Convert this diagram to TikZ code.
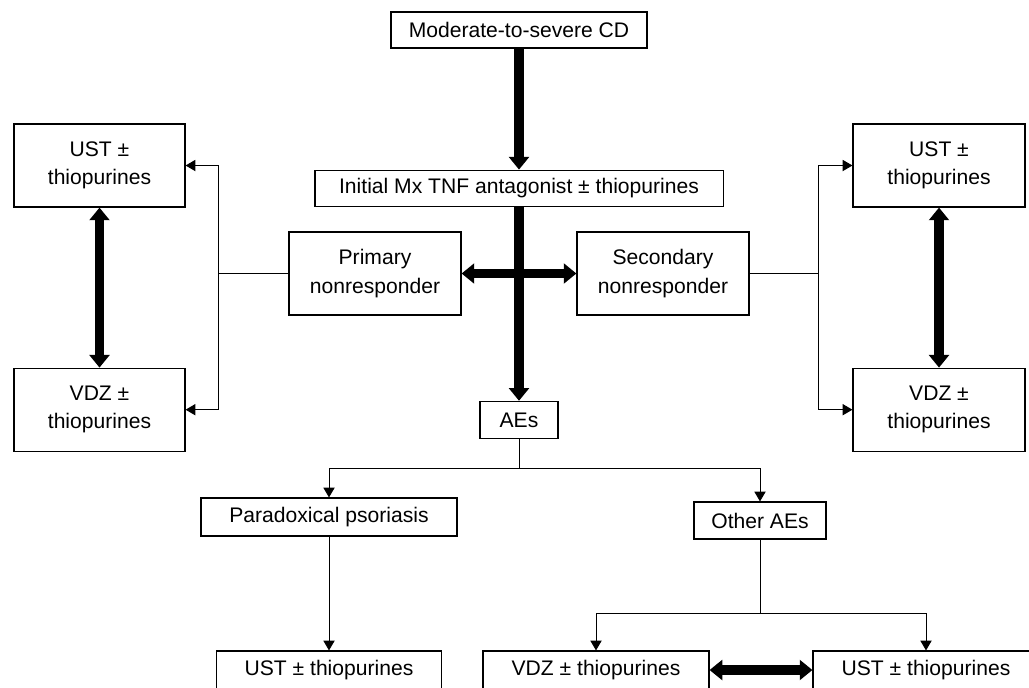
\documentclass[tikz,border=0pt]{standalone}
\usepackage{fontspec}
\setmainfont{Liberation Sans}
\usetikzlibrary{positioning,arrows.meta}

\begin{document}
\begin{tikzpicture}[x=0.025cm,y=-0.025cm,
		box/.style={draw=black,line width=0.8pt,align=center,font=\fontsize{15}{20}\selectfont},
		fat/.style={line width=7pt,arrows={-Triangle[width=14pt,length=9pt]}},
		fatboth/.style={line width=7pt,arrows={Triangle[width=14pt,length=9pt]-Triangle[width=14pt,length=9pt]}},
		link/.style={line width=0.7pt},
		linkto/.style={line width=0.7pt,arrows={-Triangle[width=8pt,length=7pt]}}]
		\useasboundingbox (0,0) rectangle (1029,687);
		\fill[white] (0,0) rectangle (1029,687);
		\clip (0,0) rectangle (1029,687);
		
		\node[box, minimum width=6.4cm, minimum height=0.9cm] (cd) at (519,30) {Moderate-to-severe CD};
		\node[box, minimum width=10.2cm, minimum height=0.9cm, below=3.025cm of cd] (init) {Initial Mx TNF antagonist ± thiopurines};
		\node[box, minimum width=1.95cm, minimum height=0.925cm, below=4.85cm of init] (aes) {AEs};
		
		\node[box, minimum width=4.3cm, minimum height=2.075cm] (prim) at (375,273.5) {Primary\\nonresponder};
		\node[box, minimum width=4.3cm, minimum height=2.075cm] (sec) at (663,273.5) {Secondary\\nonresponder};
		
		\node[box, minimum width=4.275cm, minimum height=2.075cm] (ustL) at (99.5,165.5) {UST ±\\thiopurines};
		\node[box, minimum width=4.275cm, minimum height=2.075cm, below=4cm of ustL] (vdzL) {VDZ ±\\thiopurines};
		\node[box, minimum width=4.3cm, minimum height=2.075cm] (ustR) at (939,165.5) {UST ±\\thiopurines};
		\node[box, minimum width=4.3cm, minimum height=2.075cm, below=4cm of ustR] (vdzR) {VDZ ±\\thiopurines};
		
		\node[box, minimum width=6.4cm, minimum height=0.95cm] (para) at (329,517) {Paradoxical psoriasis};
		\node[box, minimum width=3.3cm, minimum height=0.925cm] (other) at (760,520.5) {Other AEs};
		
		\node[box, minimum width=5.625cm, minimum height=0.95cm] (ustA) at (329,670) {UST ± thiopurines};
		\node[box, minimum width=5.65cm, minimum height=0.95cm] (vdzB) at (596,670) {VDZ ± thiopurines};
		\node[box, minimum width=5.65cm, minimum height=0.95cm] (ustB) at (926,670) {UST ± thiopurines};
		
		\draw[fat] (cd) -- (init);
		\draw[fat] (init) -- (aes);
		\draw[fatboth] (prim) -- (sec);
		\draw[fatboth] (ustL) -- (vdzL);
		\draw[fatboth] (ustR) -- (vdzR);
		\draw[fatboth] (vdzB) -- (ustB);
		
		\coordinate (jl) at (218,273.5);
		\draw[link] (prim.west) -- (jl);
		\draw[linkto] (jl) |- (ustL.east);
		\draw[linkto] (jl) |- (vdzL.east);
		
		\coordinate (jr) at (818,273.5);
		\draw[link] (sec.east) -- (jr);
		\draw[linkto] (jr) |- (ustR.west);
		\draw[linkto] (jr) |- (vdzR.west);
		
		\coordinate (ja) at (519,468);
		\draw[link] (aes) -- (ja);
		\draw[linkto] (ja) -| (para.north);
		\draw[linkto] (ja) -| (other.north);
		\draw[linkto] (para) -- (ustA);
		
		\coordinate (jo) at (760,613);
		\draw[link] (other) -- (jo);
		\draw[linkto] (jo) -| (vdzB.north);
		\draw[linkto] (jo) -| (ustB.north);
	\end{tikzpicture}
\end{document}
